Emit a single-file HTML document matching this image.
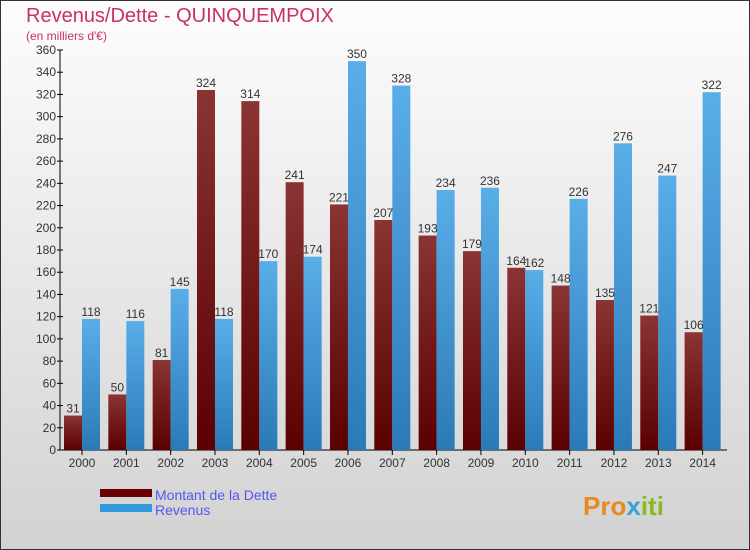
<!DOCTYPE html>
<html><head><meta charset="utf-8"><style>
body{margin:0;width:750px;height:550px;overflow:hidden;font-family:"Liberation Sans",sans-serif}
svg{display:block}
</style></head><body>
<svg width="750" height="550" xmlns="http://www.w3.org/2000/svg">
<defs>
<linearGradient id="bg" x1="0" y1="0" x2="0" y2="1"><stop offset="0" stop-color="#fdfdfd"/><stop offset="1" stop-color="#d2d2d2"/></linearGradient>
<linearGradient id="gd" x1="0" y1="0" x2="0" y2="1"><stop offset="0" stop-color="#8a3434"/><stop offset="1" stop-color="#5a0000"/></linearGradient>
<linearGradient id="gr" x1="0" y1="0" x2="0" y2="1"><stop offset="0" stop-color="#5aaee8"/><stop offset="1" stop-color="#2a7ab8"/></linearGradient>
</defs>
<rect x="0.5" y="0.5" width="749" height="549" fill="url(#bg)" stroke="#333"/>
<text x="26" y="22" font-size="20" fill="#c8306a">Revenus/Dette - QUINQUEMPOIX</text>
<text x="26" y="40" font-size="12" fill="#c8306a">(en milliers d'€)</text>
<g id="axes"></g>
<g id="bars"></g>
<g>
<rect x="100" y="489" width="52" height="8" fill="#6a0000"/>
<text x="155" y="500" font-size="14" fill="#5555ee">Montant de la Dette</text>
<rect x="100" y="504" width="52" height="8" fill="#3399dd"/>
<text x="155" y="515" font-size="14" fill="#5555ee">Revenus</text>
</g>
<text x="583" y="515" font-size="26" font-weight="bold" fill="#e88a20">Pro<tspan fill="#3aa0d8">x</tspan><tspan fill="#88bb22">iti</tspan></text>
</svg>
<script>
const years=["2000","2001","2002","2003","2004","2005","2006","2007","2008","2009","2010","2011","2012","2013","2014"];
const dette=[31,50,81,324,314,241,221,207,193,179,164,148,135,121,106];
const revenus=[118,116,145,118,170,174,350,328,234,236,162,226,276,247,322];
const ticks=[0,20,40,60,80,100,120,140,160,180,200,220,240,260,280,300,320,340,360];
const NS="http://www.w3.org/2000/svg";
const x0=62,gw=44.33,bw=18,y0=450,ymax=360,ph=400;
const y=v=>y0-v/ymax*ph;
const gx=i=>x0+2+i*gw;
function mk(t,a,p){const e=document.createElementNS(NS,t);for(const k in a)e.setAttribute(k,a[k]);p.appendChild(e);return e;}
const ax=document.getElementById('axes'),bs=document.getElementById('bars');
const yl=mk('line',{x1:60,y1:50,x2:60,y2:450,stroke:'#000'},ax);


const xl=mk('line',{x1:60,y1:450,x2:727,y2:450,stroke:'#000'},ax);


ticks.forEach(t=>{
 mk('line',{x1:57,y1:y(t),x2:63,y2:y(t),stroke:'#000'},ax);
 const tx=mk('text',{x:56,y:y(t)+4,'font-size':12,fill:'#333','text-anchor':'end'},ax);
 tx.textContent=t;
 
 
});
years.forEach((yr,i)=>{
 const cx=gx(i)+bw;
 mk('line',{x1:cx,y1:450,x2:cx,y2:455,stroke:'#000'},ax);
 const t=mk('text',{x:cx,y:467,'font-size':12,fill:'#333','text-anchor':'middle'},ax);
 t.textContent=yr;
 
 
 const b1=mk('rect',{x:gx(i),y:y(dette[i]),width:bw,height:y0-y(dette[i]),fill:'url(#gd)'},bs);
 
 
 const b2=mk('rect',{x:gx(i)+bw,y:y(revenus[i]),width:bw,height:y0-y(revenus[i]),fill:'url(#gr)'},bs);
 
 
 const l1=mk('text',{x:gx(i)+bw/2,y:y(dette[i])-3,'font-size':12,fill:'#333','text-anchor':'middle'},bs);
 l1.textContent=dette[i];
 
 
 const l2=mk('text',{x:gx(i)+bw*1.5,y:y(revenus[i])-3,'font-size':12,fill:'#333','text-anchor':'middle'},bs);
 l2.textContent=revenus[i];
 
 
});
</script>
</body></html>
